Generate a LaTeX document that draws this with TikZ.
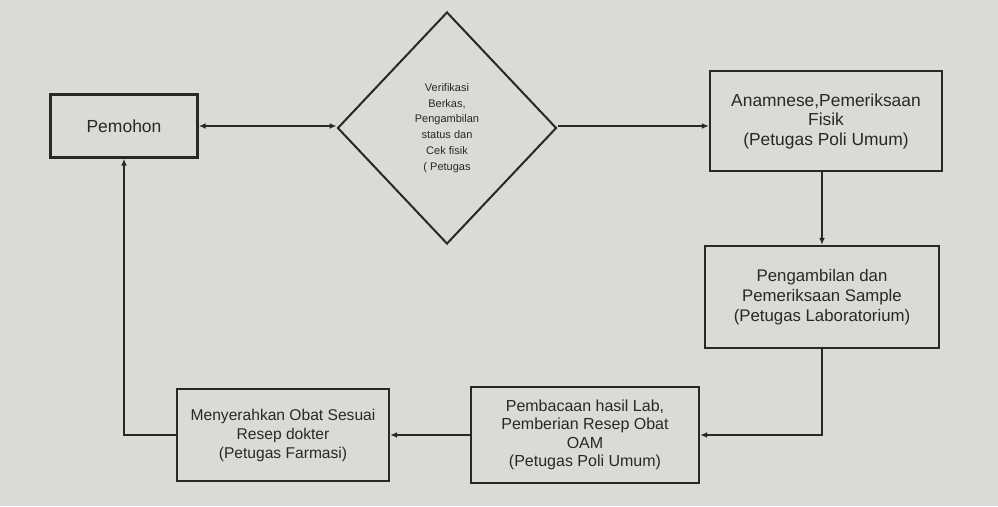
\documentclass[tikz,border=0pt]{standalone}
\usepackage{fontspec}
\setmainfont{Liberation Sans}
\usetikzlibrary{shapes.geometric, arrows.meta}

\definecolor{paper}{RGB}{218,218,215}
\definecolor{ink}{RGB}{40,40,40}

\tikzset{
  box/.style={draw=ink, line width=2.4pt, fill=paper, text=ink, align=center,
    font=\fontsize{17}{19.5}\selectfont},
  decide/.style={draw=ink, line width=2pt, diamond, fill=paper, text=ink,
    align=center, inner sep=0pt, font=\fontsize{11}{15.8}\selectfont},
  arr/.style={draw=ink, line width=1.4pt, -{Latex[length=7pt,width=6pt]}}
}

\begin{document}
\begin{tikzpicture}[x=1pt, y=-1pt]
  \useasboundingbox[fill=paper] (0,0) rectangle (998,506);

  \node (pemohon) [box, minimum width=147pt, minimum height=63pt, font=\fontsize{17.5}{19.5}\selectfont] at (124,126) {Pemohon};
  \node (verif) [decide, minimum width=219pt, minimum height=232pt] at (447,128)
    {Verifikasi\\Berkas,\\Pengambilan\\status dan\\Cek fisik\\( Petugas};
  \node (anamnese) [box, minimum width=232pt, minimum height=100pt, font=\fontsize{17.4}{19.5}\selectfont] at (826,121)
    {Anamnese,Pemeriksaan\\Fisik\\(Petugas Poli Umum)};
  \node (lab) [box, minimum width=234pt, minimum height=102pt, font=\fontsize{16.8}{20}\selectfont] at (822,297)
    {Pengambilan dan\\Pemeriksaan Sample\\(Petugas Laboratorium)};
  \node (baca) [box, minimum width=228pt, minimum height=96pt, font=\fontsize{16}{18.3}\selectfont] at (585,435)
    {Pembacaan hasil Lab,\\Pemberian Resep Obat\\OAM\\(Petugas Poli Umum)};
  \node (farmasi) [box, minimum width=212pt, minimum height=92pt, font=\fontsize{15.6}{19}\selectfont] at (283,435)
    {Menyerahkan Obat Sesuai\\Resep dokter\\(Petugas Farmasi)};

  % alur
  \draw [arr, {Latex[length=7pt,width=6pt]}-{Latex[length=7pt,width=6pt]}] (pemohon.east) -- (pemohon.east -| verif.west);
  \draw [arr] (pemohon.east -| verif.east) -- (pemohon.east -| anamnese.west);
  \draw [arr] (anamnese.south -| lab.north) -- (lab.north);
  \draw [arr] (lab.south) |- (baca.east);
  \draw [arr] (baca.west) -- (farmasi.east);
  \draw [arr] (farmasi.west) -| (pemohon.south);

\end{tikzpicture}
\end{document}
